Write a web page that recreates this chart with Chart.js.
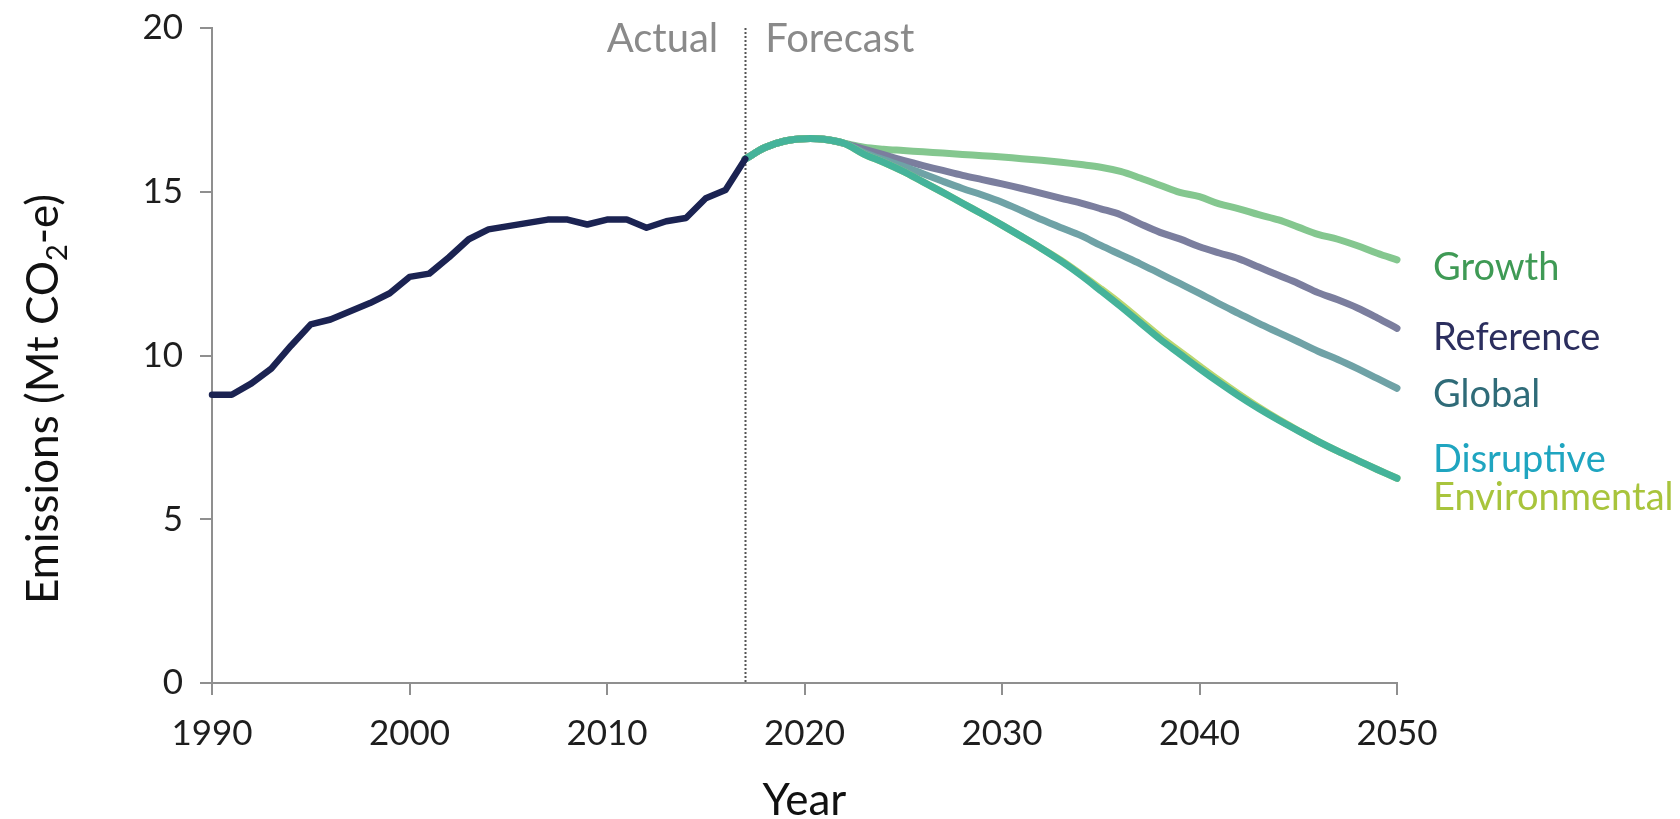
<!DOCTYPE html>
<html>
<head>
<meta charset="utf-8">
<title>Emissions</title>
<script src="https://cdn.jsdelivr.net/npm/chart.js@4.4.1/dist/chart.umd.min.js"></script>
<style>
  html, body { margin: 0; padding: 0; background: #fff; }
  canvas { display: block; }
</style>
</head>
<body>
<canvas id="grafico" width="1680" height="819"></canvas>
<script>
// Actual emissions 1990-2017
const actualYears = [1990, 1991, 1992, 1993, 1994, 1995, 1996, 1997, 1998, 1999,
  2000, 2001, 2002, 2003, 2004, 2005, 2006, 2007, 2008, 2009,
  2010, 2011, 2012, 2013, 2014, 2015, 2016, 2017];
const actualValues = [8.8, 8.8, 9.15, 9.6, 10.3, 10.95, 11.1, 11.35, 11.6, 11.9,
  12.4, 12.5, 13.0, 13.55, 13.85, 13.95, 14.05, 14.15, 14.15, 14.0,
  14.15, 14.15, 13.9, 14.1, 14.2, 14.8, 15.05, 16.0];

// Forecast 2017-2050
const forecastYears = [2017, 2018, 2019, 2020, 2021, 2022, 2023, 2024, 2025, 2026,
  2027, 2028, 2029, 2030, 2031, 2032, 2033, 2034, 2035, 2036,
  2037, 2038, 2039, 2040, 2041, 2042, 2043, 2044, 2045, 2046,
  2047, 2048, 2049, 2050];
const growth = [16.0, 16.35, 16.55, 16.62, 16.6, 16.48, 16.36, 16.3, 16.26, 16.22,
  16.18, 16.14, 16.1, 16.06, 16.01, 15.96, 15.9, 15.83, 15.75, 15.62,
  15.42, 15.2, 14.98, 14.85, 14.63, 14.48, 14.3, 14.14, 13.92, 13.7,
  13.55, 13.35, 13.12, 12.92];
const reference = [16.0, 16.35, 16.55, 16.62, 16.6, 16.48, 16.3, 16.13, 15.96, 15.8,
  15.65, 15.5, 15.37, 15.24, 15.1, 14.95, 14.8, 14.65, 14.48, 14.3,
  14.02, 13.76, 13.56, 13.32, 13.13, 12.95, 12.7, 12.45, 12.2, 11.92,
  11.7, 11.45, 11.15, 10.83];
const global = [16.0, 16.35, 16.55, 16.62, 16.6, 16.48, 16.2, 15.98, 15.78, 15.55,
  15.32, 15.1, 14.9, 14.68, 14.42, 14.15, 13.9, 13.66, 13.36, 13.08,
  12.8, 12.5, 12.2, 11.9, 11.58, 11.28, 10.98, 10.7, 10.42, 10.13,
  9.88, 9.6, 9.3, 9.0];
const disruptive = [16.0, 16.35, 16.55, 16.62, 16.6, 16.48, 16.15, 15.9, 15.62, 15.3,
  14.98, 14.65, 14.32, 13.98, 13.63, 13.27, 12.88, 12.45, 11.98, 11.5,
  11.0, 10.5, 10.05, 9.6, 9.17, 8.76, 8.38, 8.03, 7.7, 7.38,
  7.08, 6.8, 6.52, 6.25];
const environmental = [16.0, 16.35, 16.55, 16.62, 16.6, 16.48, 16.15, 15.9, 15.62, 15.3,
  14.98, 14.65, 14.32, 13.98, 13.63, 13.27, 12.9, 12.48, 12.04, 11.58,
  11.08, 10.58, 10.13, 9.68, 9.24, 8.82, 8.42, 8.05, 7.71, 7.38,
  7.08, 6.8, 6.52, 6.25];

const xTicks = [1990, 2000, 2010, 2020, 2030, 2040, 2050];
const yTicks = [0, 5, 10, 15, 20];
const splitYear = 2017;

const FONT = "Lato, 'Open Sans', sans-serif";

function puntos(years, values) {
  return years.map((yr, i) => ({ x: yr, y: values[i] }));
}

// end-of-line labels: colour and baseline
const etiquetas = [
  { text: "Growth", color: "#3f9a55", y: 280 },
  { text: "Reference", color: "#2b2e5e", y: 350 },
  { text: "Global", color: "#2f6b78", y: 407 },
  { text: "Disruptive", color: "#1fa5c0", y: 472 },
  { text: "Environmental", color: "#a8c43c", y: 510 }
];

const anotaciones = {
  id: "anotaciones",
  beforeDatasetsDraw(chart) {
    const { ctx, scales } = chart;
    const x = Math.round(scales.x.getPixelForValue(splitYear)) + 0.5;
    ctx.save();
    ctx.strokeStyle = "#555";
    ctx.lineWidth = 2;
    ctx.setLineDash([2, 2]);
    ctx.beginPath();
    ctx.moveTo(x, scales.y.getPixelForValue(20));
    ctx.lineTo(x, scales.y.getPixelForValue(0));
    ctx.stroke();
    ctx.restore();
  },
  afterDraw(chart) {
    const { ctx, scales } = chart;
    const xs = scales.x.getPixelForValue(splitYear);
    ctx.save();

    ctx.font = "40px " + FONT;
    ctx.fillStyle = "#8a8a8a";
    ctx.textBaseline = "alphabetic";
    ctx.textAlign = "right";
    ctx.fillText("Actual", xs - 27, 52);
    ctx.textAlign = "left";
    ctx.fillText("Forecast", xs + 20, 52);

    ctx.font = "38px " + FONT;
    etiquetas.forEach(e => {
      ctx.fillStyle = e.color;
      ctx.fillText(e.text, 1433, e.y);
    });

    // axis titles
    ctx.fillStyle = "#111";
    ctx.font = "44px " + FONT;
    ctx.textAlign = "center";
    ctx.fillText("Year", (scales.x.left + scales.x.right) / 2, 815);

    ctx.translate(58, 399);
    ctx.rotate(-Math.PI / 2);
    ctx.textAlign = "left";
    ctx.textBaseline = "alphabetic";
    const p1 = "Emissions (Mt CO", p2 = "2", p3 = "-e)";
    ctx.font = "44px " + FONT;
    const w1 = ctx.measureText(p1).width, w3 = ctx.measureText(p3).width;
    ctx.font = "29px " + FONT;
    const w2 = ctx.measureText(p2).width;
    let x0 = -(w1 + w2 + w3) / 2;
    ctx.font = "44px " + FONT;
    ctx.fillText(p1, x0, 0);
    ctx.font = "29px " + FONT;
    ctx.fillText(p2, x0 + w1, 9);
    ctx.font = "44px " + FONT;
    ctx.fillText(p3, x0 + w1 + w2, 0);
    ctx.restore();
  }
};

const linea = (label, data, color, width, order, tension) => ({
  label, data, borderColor: color, borderWidth: width, order,
  pointRadius: 0, tension, fill: false, clip: false,
  borderCapStyle: "round", borderJoinStyle: "round"
});

new Chart(document.getElementById("grafico"), {
  type: "line",
  data: {
    datasets: [
      linea("Actual", puntos(actualYears, actualValues), "#1b2352", 6.5, 0, 0),
      linea("Disruptive", puntos(forecastYears, disruptive), "#45b39a", 7, 1, 0.35),
      linea("Environmental", puntos(forecastYears, environmental), "#bcd670", 7, 2, 0.35),
      linea("Global", puntos(forecastYears, global), "#6fa2a6", 7, 3, 0.35),
      linea("Reference", puntos(forecastYears, reference), "#7b7e9e", 7, 4, 0.35),
      linea("Growth", puntos(forecastYears, growth), "#84c78f", 7, 5, 0.35)
    ]
  },
  options: {
    responsive: false,
    animation: false,
    devicePixelRatio: 1,
    layout: { padding: { top: 28, right: 283, left: 0, bottom: 0 } },
    plugins: { legend: { display: false }, tooltip: { enabled: false } },
    scales: {
      x: {
        type: "linear",
        min: xTicks[0],
        max: xTicks[xTicks.length - 1],
        afterFit: s => { s.height = 136; s.paddingLeft = 0; s.paddingRight = 0; },
        afterBuildTicks: s => { s.ticks = xTicks.map(v => ({ value: v })); },
        ticks: {
          callback: v => String(v),
          font: { family: FONT, size: 35 },
          color: "#1e1e1e",
          padding: 18,
          maxRotation: 0
        },
        grid: { drawOnChartArea: false, tickLength: 12, color: "#8f8f8f", lineWidth: 2 },
        border: { color: "#8f8f8f", width: 2 }
      },
      y: {
        min: yTicks[0],
        max: yTicks[yTicks.length - 1],
        afterFit: s => { s.width = 212; s.paddingTop = 0; s.paddingBottom = 0; },
        afterBuildTicks: s => { s.ticks = yTicks.map(v => ({ value: v })); },
        ticks: {
          font: { family: FONT, size: 35 },
          color: "#1e1e1e",
          padding: 17
        },
        grid: { drawOnChartArea: false, tickLength: 12, color: "#8f8f8f", lineWidth: 2 },
        border: { color: "#8f8f8f", width: 2 }
      }
    }
  },
  plugins: [anotaciones]
});
</script>
</body>
</html>
